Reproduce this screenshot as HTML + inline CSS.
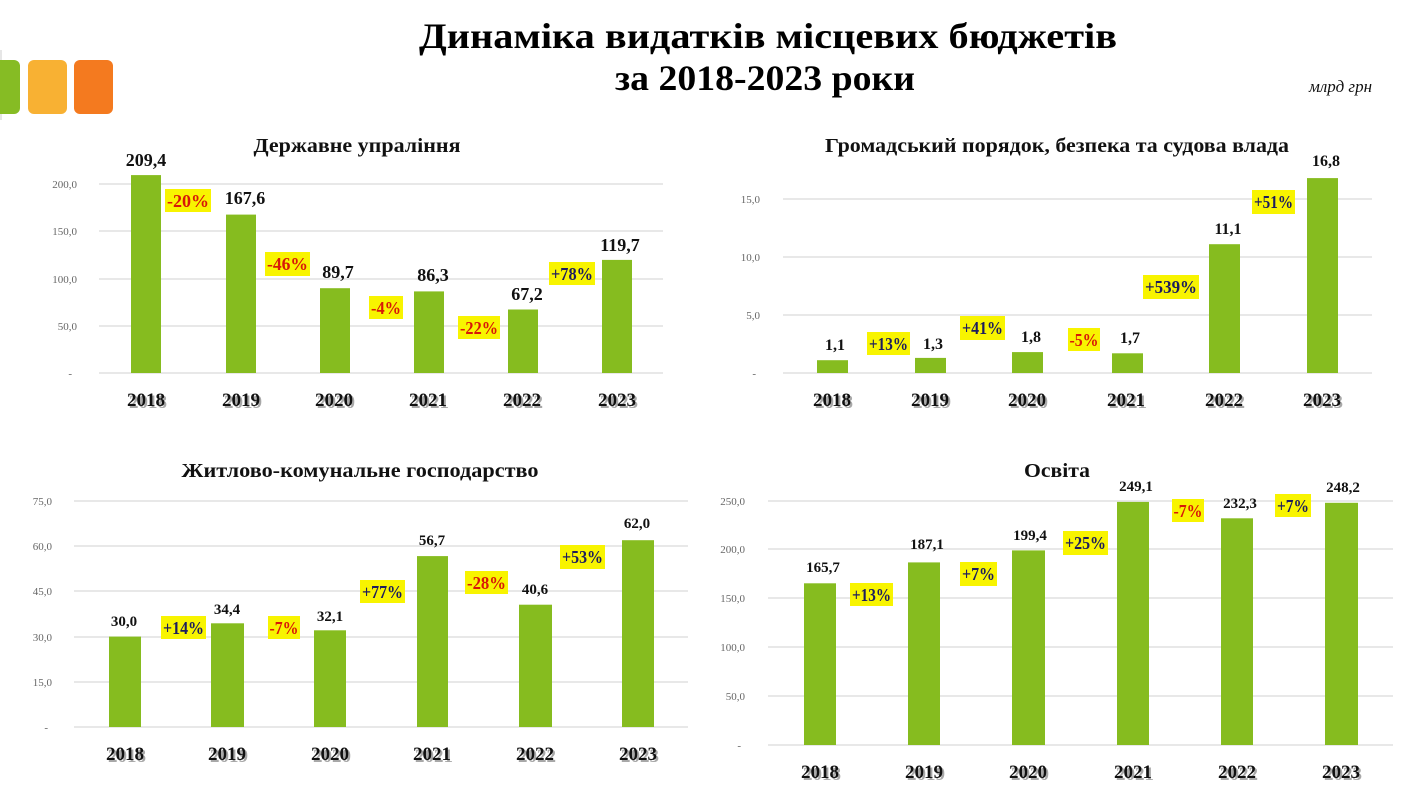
<!DOCTYPE html>
<html><head><meta charset="utf-8"><style>
html,body{margin:0;padding:0;background:#fff;}
svg{display:block;}
text{font-family:"Liberation Serif","Noto Serif CJK SC",serif;}
.ax{font-size:11px;fill:#666;text-anchor:end;}
.t{font-size:20px;font-weight:bold;fill:#111;text-anchor:middle;}
.v1{font-size:18px;font-weight:bold;fill:#111;text-anchor:middle;}
.v2{font-size:16px;font-weight:bold;fill:#111;text-anchor:middle;}
.v3{font-size:15px;font-weight:bold;fill:#111;text-anchor:middle;}
.p{font-size:18px;font-weight:bold;text-anchor:middle;}
.n{fill:#d81808;}
.pp{fill:#1c1c5e;}
.y{font-size:19px;font-weight:bold;fill:#111;text-anchor:middle;}
.ys{font-size:19px;font-weight:bold;fill:#a8a8a8;text-anchor:middle;}
.g{stroke:#d9d9d9;stroke-width:1.3;}
.b{fill:#86bc1f;}
.hl{fill:#f8f400;}
</style></head><body>
<svg width="1410" height="793" viewBox="0 0 1410 793" xmlns="http://www.w3.org/2000/svg">
<!-- logo -->
<line x1="1" y1="50" x2="1" y2="120" stroke="#ccc" stroke-width="1"/>
<rect x="-12" y="60" width="32" height="54" rx="6" fill="#86bc24"/>
<rect x="28" y="60" width="39" height="54" rx="6" fill="#f8b133"/>
<rect x="74" y="60" width="39" height="54" rx="6" fill="#f47a1f"/>
<!-- main title -->
<text x="768" y="48" style="font-size:36px;font-weight:bold;fill:#000;text-anchor:middle" textLength="698" lengthAdjust="spacingAndGlyphs">Динаміка видатків місцевих бюджетів</text>
<text x="765" y="90" style="font-size:36px;font-weight:bold;fill:#000;text-anchor:middle" textLength="300" lengthAdjust="spacingAndGlyphs">за 2018-2023 роки</text>
<text x="1372" y="92" style="font-size:17px;font-style:italic;fill:#111;text-anchor:end">млрд грн</text>

<!-- ===== Chart 1 ===== -->
<text class="t" x="357" y="152" textLength="207" lengthAdjust="spacingAndGlyphs">Державне упраління</text>
<g class="g">
<line x1="99" y1="184" x2="663" y2="184"/><line x1="99" y1="231" x2="663" y2="231"/>
<line x1="99" y1="279" x2="663" y2="279"/><line x1="99" y1="326" x2="663" y2="326"/>
<line x1="99" y1="373" x2="663" y2="373"/>
</g>
<text class="ax" x="77" y="188">200,0</text><text class="ax" x="77" y="235">150,0</text>
<text class="ax" x="77" y="283">100,0</text><text class="ax" x="77" y="330">50,0</text>
<text class="ax" x="72" y="377">-</text>
<rect class="b" x="131" y="175.1" width="30" height="197.9"/>
<rect class="b" x="226" y="214.6" width="30" height="158.4"/>
<rect class="b" x="320" y="288.2" width="30" height="84.8"/>
<rect class="b" x="414" y="291.4" width="30" height="81.6"/>
<rect class="b" x="508" y="309.5" width="30" height="63.5"/>
<rect class="b" x="602" y="259.9" width="30" height="113.1"/>
<text class="v1" x="146" y="166">209,4</text>
<text class="v1" x="245" y="204">167,6</text>
<text class="v1" x="338" y="278">89,7</text>
<text class="v1" x="433" y="281">86,3</text>
<text class="v1" x="527" y="300">67,2</text>
<text class="v1" x="620" y="251">119,7</text>
<rect class="hl" x="165" y="189" width="46" height="23"/><text class="p n" x="188" y="207" textLength="42" lengthAdjust="spacingAndGlyphs">-20%</text>
<rect class="hl" x="265" y="252" width="45" height="24"/><text class="p n" x="287.5" y="270" textLength="41" lengthAdjust="spacingAndGlyphs">-46%</text>
<rect class="hl" x="369" y="296" width="34" height="23"/><text class="p n" x="386" y="314" textLength="30" lengthAdjust="spacingAndGlyphs">-4%</text>
<rect class="hl" x="458" y="316" width="42" height="23"/><text class="p n" x="479" y="334" textLength="38" lengthAdjust="spacingAndGlyphs">-22%</text>
<rect class="hl" x="549" y="262" width="46" height="23"/><text class="p pp" x="572" y="280" textLength="42" lengthAdjust="spacingAndGlyphs">+78%</text>
<text class="ys" x="148" y="408">2018</text><text class="y" x="146" y="406">2018</text>
<text class="ys" x="243" y="408">2019</text><text class="y" x="241" y="406">2019</text>
<text class="ys" x="336" y="408">2020</text><text class="y" x="334" y="406">2020</text>
<text class="ys" x="430" y="408">2021</text><text class="y" x="428" y="406">2021</text>
<text class="ys" x="524" y="408">2022</text><text class="y" x="522" y="406">2022</text>
<text class="ys" x="619" y="408">2023</text><text class="y" x="617" y="406">2023</text>

<!-- ===== Chart 2 ===== -->
<text class="t" x="1057" y="152" textLength="464" lengthAdjust="spacingAndGlyphs">Громадський порядок, безпека та судова влада</text>
<g class="g">
<line x1="783" y1="199" x2="1372" y2="199"/><line x1="783" y1="257" x2="1372" y2="257"/>
<line x1="783" y1="315" x2="1372" y2="315"/><line x1="783" y1="373" x2="1372" y2="373"/>
</g>
<text class="ax" x="760" y="203">15,0</text><text class="ax" x="760" y="261">10,0</text>
<text class="ax" x="760" y="319">5,0</text><text class="ax" x="756" y="377">-</text>
<rect class="b" x="817" y="360.2" width="31" height="12.8"/>
<rect class="b" x="915" y="357.9" width="31" height="15.1"/>
<rect class="b" x="1012" y="352.1" width="31" height="20.9"/>
<rect class="b" x="1112" y="353.3" width="31" height="19.7"/>
<rect class="b" x="1209" y="244.2" width="31" height="128.8"/>
<rect class="b" x="1307" y="178.1" width="31" height="194.9"/>
<text class="v2" x="835" y="350">1,1</text>
<text class="v2" x="933" y="349">1,3</text>
<text class="v2" x="1031" y="342">1,8</text>
<text class="v2" x="1130" y="343">1,7</text>
<text class="v2" x="1228" y="234">11,1</text>
<text class="v2" x="1326" y="166">16,8</text>
<rect class="hl" x="867" y="332" width="43" height="23"/><text class="p pp" x="888.5" y="350" textLength="39" lengthAdjust="spacingAndGlyphs">+13%</text>
<rect class="hl" x="960" y="316" width="45" height="24"/><text class="p pp" x="982.5" y="334" textLength="41" lengthAdjust="spacingAndGlyphs">+41%</text>
<rect class="hl" x="1068" y="328" width="32" height="23"/><text class="p n" x="1084" y="346" textLength="29" lengthAdjust="spacingAndGlyphs">-5%</text>
<rect class="hl" x="1143" y="275" width="56" height="24"/><text class="p pp" x="1171" y="293" textLength="52" lengthAdjust="spacingAndGlyphs">+539%</text>
<rect class="hl" x="1252" y="190" width="43" height="24"/><text class="p pp" x="1273.5" y="208" textLength="39" lengthAdjust="spacingAndGlyphs">+51%</text>
<text class="ys" x="834" y="408">2018</text><text class="y" x="832" y="406">2018</text>
<text class="ys" x="932" y="408">2019</text><text class="y" x="930" y="406">2019</text>
<text class="ys" x="1029" y="408">2020</text><text class="y" x="1027" y="406">2020</text>
<text class="ys" x="1128" y="408">2021</text><text class="y" x="1126" y="406">2021</text>
<text class="ys" x="1226" y="408">2022</text><text class="y" x="1224" y="406">2022</text>
<text class="ys" x="1324" y="408">2023</text><text class="y" x="1322" y="406">2023</text>

<!-- ===== Chart 3 ===== -->
<text class="t" x="360" y="477" textLength="357" lengthAdjust="spacingAndGlyphs">Житлово-комунальне господарство</text>
<g class="g">
<line x1="74" y1="501" x2="688" y2="501"/><line x1="74" y1="546" x2="688" y2="546"/>
<line x1="74" y1="591" x2="688" y2="591"/><line x1="74" y1="637" x2="688" y2="637"/>
<line x1="74" y1="682" x2="688" y2="682"/><line x1="74" y1="727" x2="688" y2="727"/>
</g>
<text class="ax" x="52" y="505">75,0</text><text class="ax" x="52" y="550">60,0</text>
<text class="ax" x="52" y="595">45,0</text><text class="ax" x="52" y="641">30,0</text>
<text class="ax" x="52" y="686">15,0</text><text class="ax" x="48" y="731">-</text>
<rect class="b" x="109" y="636.6" width="32" height="90.4"/>
<rect class="b" x="211" y="623.3" width="33" height="103.7"/>
<rect class="b" x="314" y="630.3" width="32" height="96.7"/>
<rect class="b" x="417" y="556.1" width="31" height="170.9"/>
<rect class="b" x="519" y="604.7" width="33" height="122.3"/>
<rect class="b" x="622" y="540.2" width="32" height="186.8"/>
<text class="v3" x="124" y="626">30,0</text>
<text class="v3" x="227" y="614">34,4</text>
<text class="v3" x="330" y="621">32,1</text>
<text class="v3" x="432" y="545">56,7</text>
<text class="v3" x="535" y="594">40,6</text>
<text class="v3" x="637" y="528">62,0</text>
<rect class="hl" x="161" y="616" width="45" height="23"/><text class="p pp" x="183.5" y="634" textLength="41" lengthAdjust="spacingAndGlyphs">+14%</text>
<rect class="hl" x="268" y="616" width="32" height="23"/><text class="p n" x="284" y="634" textLength="29" lengthAdjust="spacingAndGlyphs">-7%</text>
<rect class="hl" x="360" y="580" width="45" height="23"/><text class="p pp" x="382.5" y="598" textLength="41" lengthAdjust="spacingAndGlyphs">+77%</text>
<rect class="hl" x="465" y="571" width="43" height="23"/><text class="p n" x="486.5" y="589" textLength="39" lengthAdjust="spacingAndGlyphs">-28%</text>
<rect class="hl" x="560" y="545" width="45" height="24"/><text class="p pp" x="582.5" y="563" textLength="41" lengthAdjust="spacingAndGlyphs">+53%</text>
<text class="ys" x="127" y="762">2018</text><text class="y" x="125" y="760">2018</text>
<text class="ys" x="229" y="762">2019</text><text class="y" x="227" y="760">2019</text>
<text class="ys" x="332" y="762">2020</text><text class="y" x="330" y="760">2020</text>
<text class="ys" x="434" y="762">2021</text><text class="y" x="432" y="760">2021</text>
<text class="ys" x="537" y="762">2022</text><text class="y" x="535" y="760">2022</text>
<text class="ys" x="640" y="762">2023</text><text class="y" x="638" y="760">2023</text>

<!-- ===== Chart 4 ===== -->
<text class="t" x="1057" y="477" textLength="66" lengthAdjust="spacingAndGlyphs">Освіта</text>
<g class="g">
<line x1="768" y1="501" x2="1393" y2="501"/><line x1="768" y1="549" x2="1393" y2="549"/>
<line x1="768" y1="598" x2="1393" y2="598"/><line x1="768" y1="647" x2="1393" y2="647"/>
<line x1="768" y1="696" x2="1393" y2="696"/><line x1="768" y1="745" x2="1393" y2="745"/>
</g>
<text class="ax" x="745" y="505">250,0</text><text class="ax" x="745" y="553">200,0</text>
<text class="ax" x="745" y="602">150,0</text><text class="ax" x="745" y="651">100,0</text>
<text class="ax" x="745" y="700">50,0</text><text class="ax" x="741" y="749">-</text>
<rect class="b" x="804" y="583.3" width="32" height="161.7"/>
<rect class="b" x="908" y="562.4" width="32" height="182.6"/>
<rect class="b" x="1012" y="550.4" width="33" height="194.6"/>
<rect class="b" x="1117" y="501.9" width="32" height="243.1"/>
<rect class="b" x="1221" y="518.3" width="32" height="226.7"/>
<rect class="b" x="1325" y="502.8" width="33" height="242.2"/>
<text class="v3" x="823" y="572">165,7</text>
<text class="v3" x="927" y="549">187,1</text>
<text class="v3" x="1030" y="540">199,4</text>
<text class="v3" x="1136" y="491">249,1</text>
<text class="v3" x="1240" y="508">232,3</text>
<text class="v3" x="1343" y="492">248,2</text>
<rect class="hl" x="850" y="583" width="43" height="23"/><text class="p pp" x="871.5" y="601" textLength="39" lengthAdjust="spacingAndGlyphs">+13%</text>
<rect class="hl" x="960" y="562" width="37" height="24"/><text class="p pp" x="978.5" y="580" textLength="33" lengthAdjust="spacingAndGlyphs">+7%</text>
<rect class="hl" x="1063" y="531" width="45" height="24"/><text class="p pp" x="1085.5" y="549" textLength="41" lengthAdjust="spacingAndGlyphs">+25%</text>
<rect class="hl" x="1172" y="499" width="32" height="23"/><text class="p n" x="1188" y="517" textLength="29" lengthAdjust="spacingAndGlyphs">-7%</text>
<rect class="hl" x="1275" y="494" width="36" height="23"/><text class="p pp" x="1293" y="512" textLength="32" lengthAdjust="spacingAndGlyphs">+7%</text>
<text class="ys" x="822" y="780">2018</text><text class="y" x="820" y="778">2018</text>
<text class="ys" x="926" y="780">2019</text><text class="y" x="924" y="778">2019</text>
<text class="ys" x="1030" y="780">2020</text><text class="y" x="1028" y="778">2020</text>
<text class="ys" x="1135" y="780">2021</text><text class="y" x="1133" y="778">2021</text>
<text class="ys" x="1239" y="780">2022</text><text class="y" x="1237" y="778">2022</text>
<text class="ys" x="1343" y="780">2023</text><text class="y" x="1341" y="778">2023</text>
</svg>
</body></html>
